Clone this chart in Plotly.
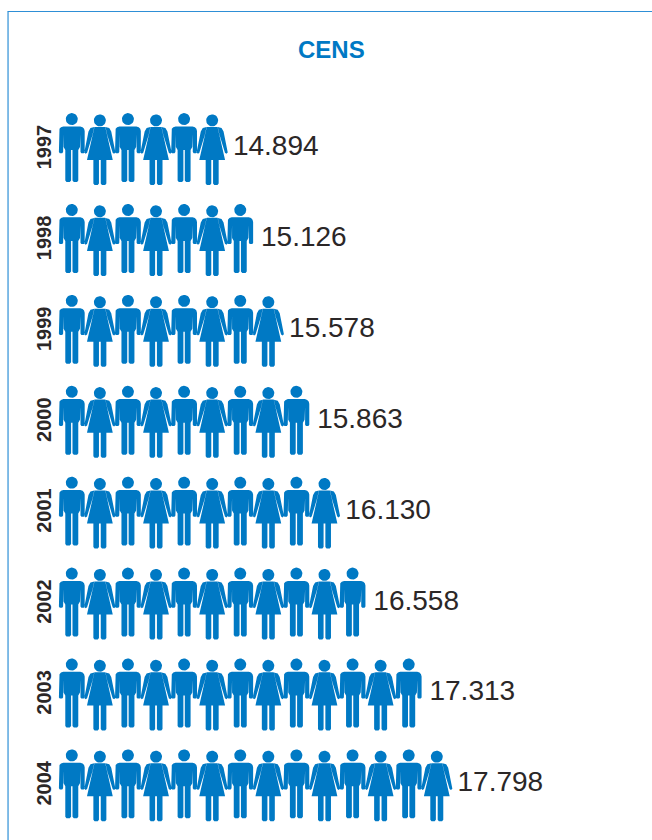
import numpy as np
import plotly.graph_objects as go

years = [1997, 1998, 1999, 2000, 2001, 2002, 2003, 2004]
census = [14894, 15126, 15578, 15863, 16130, 16558, 17313, 17798]
icons = [6, 7, 8, 9, 10, 11, 13, 14]
title = "CENS"

BLUE = "#0079C4"
INK = "#2b2727"
BORDER = "#2E8FD6"
W, H = 652, 840
L = 55.5              # plot area left edge
ICON_PX = 28.1        # px per icon
ROW_PX = 90.9         # px per year
X0_PX, Y0_PX = 71.3, 150.0  # first icon centre, first row centre
SHIFT = -3.0          # glyphs sit slightly above the tick-label centre

# pictogram glyphs, in px relative to (icon centre, row centre)
def circle(cx, cy, r, n=28):
    t = np.linspace(0, 2 * np.pi, n)
    return list(zip(cx + r * np.cos(t), cy + r * np.sin(t)))

def mirror(pts):
    return [(-x, y) for x, y in pts]

man_half = [(0, -20.6), (8.5, -20.6), (10.8, -19.8), (12.3, -18.2), (12.9, -16), (12.9, 5), (12, 6.2), (9.6, 6.2), (8.7, 5),
            (8.7, -12.5), (8.2, -12.5), (8.2, 0), (6.5, 3), (6.5, 33.5), (5.3, 35), (2, 35), (0.7, 33.5), (0.7, 3), (0, 3)]
man = [circle(0, -27.9, 6.0), man_half + mirror(man_half)[::-1]]

dress_half = [(0, -20.1), (5.4, -20.1), (12.9, 13), (6.5, 13), (6.5, 36.5), (5.3, 38), (2.1, 38), (0.9, 36.5), (0.9, 13), (0, 13)]
arm_r = [(5.6, -20), (9.4, -19), (11.4, -15.5), (15.6, 3.5), (15.6, 5.5), (14.2, 6.8), (12.8, 5.8), (7.4, -12)]
woman = [circle(0, -26.6, 6.0), dress_half + mirror(dress_half)[::-1], arm_r, mirror(arm_r)]

xs, ys = [], []
for year, count in zip(years, icons):
    for i in range(count):
        for poly in (man if i % 2 == 0 else woman):
            for px, py in poly:
                xs.append(i + px / ICON_PX)
                ys.append(year + (py + SHIFT) / ROW_PX)
            xs.append(None)
            ys.append(None)

fig = go.Figure()
fig.add_trace(go.Scatter(x=xs, y=ys, mode="lines", fill="toself", fillcolor=BLUE,
                         line=dict(width=0, color=BLUE), hoverinfo="skip", showlegend=False))
fig.add_trace(go.Scatter(x=[c - 1 + 0.74 for c in icons], y=[y + (SHIFT + 1) / ROW_PX for y in years], mode="text",
                         text=[f"{v:,}".replace(",", ".") for v in census],
                         textposition="middle right",
                         textfont=dict(family="Liberation Sans", size=28, color=INK),
                         hoverinfo="skip", showlegend=False))

fig.update_layout(
    width=W, height=H, margin=dict(l=L, r=0, t=0, b=0),
    paper_bgcolor="white", plot_bgcolor="white",
    xaxis=dict(visible=False, range=[-(X0_PX - L) / ICON_PX, (W - X0_PX) / ICON_PX]),
    yaxis=dict(range=[years[0] + (H - Y0_PX) / ROW_PX, years[0] - Y0_PX / ROW_PX],
               tickmode="array", tickvals=years, ticktext=[f"<b>{y}</b>" for y in years],
               tickangle=-90, showgrid=False, zeroline=False, showline=False, ticks="",
               tickfont=dict(family="Liberation Sans", size=20, color=INK), automargin=False),
    annotations=[dict(text=f"<b>{title}</b>", xref="paper", yref="paper", x=(331 - L) / (W - L), y=1 - 49 / H,
                      xanchor="center", yanchor="middle", showarrow=False,
                      font=dict(family="Liberation Sans", size=24, color=BLUE))],
    shapes=[dict(type="line", xref="paper", yref="paper", x0=(7 - L) / (W - L), x1=1, y0=1 - 11.5 / H, y1=1 - 11.5 / H,
                 line=dict(color=BORDER, width=1.2)),
            dict(type="line", xref="paper", yref="paper", x0=(7.5 - L) / (W - L), x1=(7.5 - L) / (W - L), y0=1 - 11.5 / H, y1=0,
                 line=dict(color=BORDER, width=1.2))],
)
fig.write_html("out.html", config=dict(displayModeBar=False),
               post_script="document.body.style.margin='0';document.body.style.overflow='hidden';")
